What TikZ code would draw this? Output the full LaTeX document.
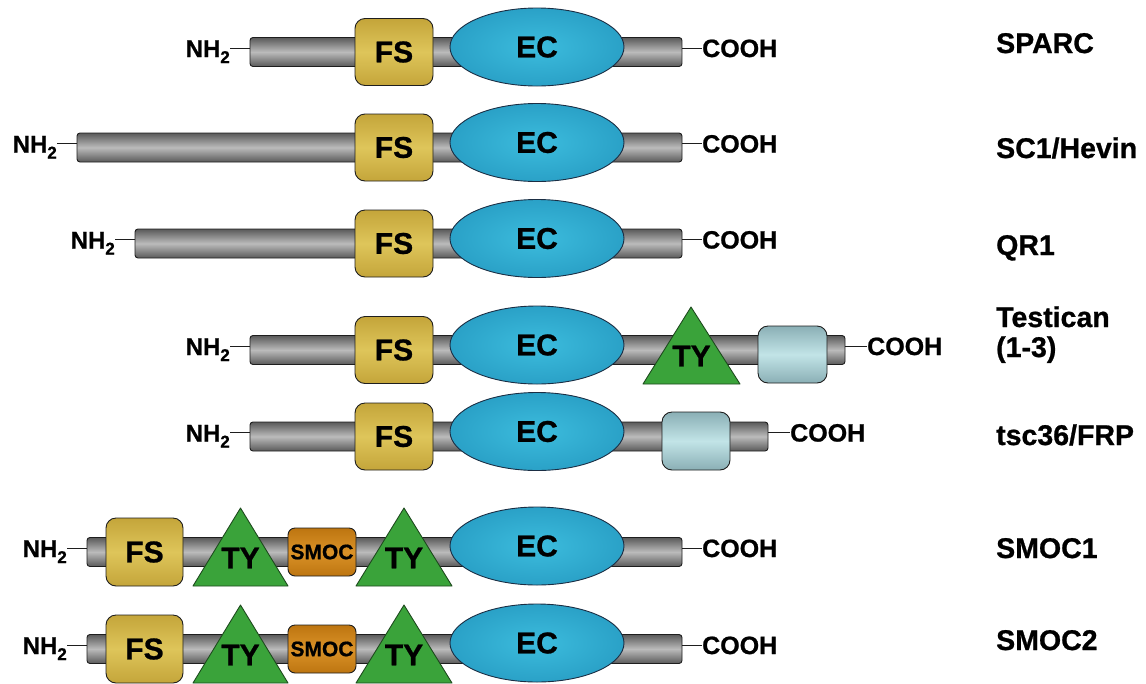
\documentclass[tikz,border=0pt]{standalone}
\usepackage{fontspec}
\setmainfont{Liberation Sans}[BoldFeatures={FakeBold=0.9}]
\usetikzlibrary{shapes.geometric}

\definecolor{barDark}{HTML}{5A5A5A}
\definecolor{barLight}{HTML}{BBBBBB}
\definecolor{fsEdge}{HTML}{C4A53A}
\definecolor{fsMid}{HTML}{DEC55A}
\definecolor{ecOuter}{HTML}{2AA1C7}
\definecolor{ecInner}{HTML}{3CBCDD}
\definecolor{ecLine}{HTML}{1B2E44}
\definecolor{tyFill}{HTML}{3AA33A}
\definecolor{tyLine}{HTML}{1E4A1E}
\definecolor{smocEdge}{HTML}{BD7510}
\definecolor{smocMid}{HTML}{DA9228}
\definecolor{lbEdge}{HTML}{8AAFB5}
\definecolor{lbMid}{HTML}{C2E4E7}
\definecolor{inkline}{HTML}{1E1E1E}

\newcommand\subtwo{\raisebox{-6pt}{\fontsize{17}{17}\selectfont 2}}

\tikzset{
  backbone/.style={draw=inkline, line width=0.9pt, rounded corners=3pt, inner sep=0pt,
    minimum height=29pt, top color=barDark, bottom color=barDark, middle color=barLight},
  fsbox/.style={draw=inkline, line width=0.9pt, rounded corners=10pt, inner sep=0pt,
    minimum width=78pt, minimum height=67pt, top color=fsEdge, bottom color=fsEdge,
    middle color=fsMid, font=\fontsize{30}{30}\selectfont\bfseries},
  ecbox/.style={ellipse, draw=ecLine, line width=0.9pt, inner sep=0pt,
    minimum width=174pt, minimum height=78pt, inner color=ecInner, outer color=ecOuter,
    font=\fontsize{30}{30}\selectfont\bfseries},
  smocbox/.style={draw=inkline, line width=0.9pt, rounded corners=7pt, inner sep=0pt,
    minimum width=68pt, minimum height=48pt, top color=smocEdge, bottom color=smocEdge,
    middle color=smocMid, font=\fontsize{21}{21}\selectfont\bfseries},
  lbbox/.style={draw=inkline, line width=0.9pt, rounded corners=10pt, inner sep=0pt,
    minimum width=69pt, minimum height=57pt, top color=lbEdge, bottom color=lbEdge,
    middle color=lbMid},
  tyshape/.style={fill=tyFill, draw=tyLine, line width=0.9pt, line join=round},
  tytext/.style={inner sep=0pt, font=\fontsize{30}{30}\selectfont\bfseries},
  nterm/.style={anchor=base east, inner sep=0pt, font=\fontsize{24}{24}\selectfont\bfseries},
  cterm/.style={anchor=base west, inner sep=0pt, font=\fontsize{25}{25}\selectfont\bfseries},
  tick/.style={draw=inkline, line width=0.8pt},
  protlabel/.style={anchor=base west, inner sep=0pt, align=left,
    font=\fontsize{28.5}{30}\selectfont\bfseries}
}

\begin{document}
\begin{tikzpicture}[x=1pt,y=-1pt]
\useasboundingbox (0,0) rectangle (1146,683);

% ---- SPARC ----
\node[backbone, minimum width=432pt] (b1) at (466,52) {};
\node[fsbox] (fs1) at (394,52) {FS};
\node[ecbox] (ec1) at (537,47) {EC};
\node[nterm] (n1) at (230,57) {NH\subtwo};
\node[cterm] (c1) at (702,57) {COOH};
\draw[tick] ([yshift=4pt]b1.west) -- ([yshift=4pt]b1.west -| n1.east);
\draw[tick] ([yshift=4pt]b1.east) -- ([yshift=4pt]b1.east -| c1.west);
\node[protlabel] (l1) at (996,53) {SPARC};

% ---- SC1/Hevin ----
\node[backbone, minimum width=605pt] (b2) at (379.5,147.5) {};
\node[fsbox] (fs2) at (394,147.5) {FS};
\node[ecbox] (ec2) at (537,142.5) {EC};
\node[nterm] (n2) at (57,152.5) {NH\subtwo};
\node[cterm] (c2) at (702,152.5) {COOH};
\draw[tick] ([yshift=4pt]b2.west) -- ([yshift=4pt]b2.west -| n2.east);
\draw[tick] ([yshift=4pt]b2.east) -- ([yshift=4pt]b2.east -| c2.west);
\node[protlabel] (l2) at (996,158) {SC1/Hevin};

% ---- QR1 ----
\node[backbone, minimum width=547pt] (b3) at (408.5,243.5) {};
\node[fsbox] (fs3) at (394,243.5) {FS};
\node[ecbox] (ec3) at (537,238.5) {EC};
\node[nterm] (n3) at (115,248.5) {NH\subtwo};
\node[cterm] (c3) at (702,248.5) {COOH};
\draw[tick] ([yshift=4pt]b3.west) -- ([yshift=4pt]b3.west -| n3.east);
\draw[tick] ([yshift=4pt]b3.east) -- ([yshift=4pt]b3.east -| c3.west);
\node[protlabel] (l3) at (996,255) {QR1};

% ---- Testican (1-3) ----
\node[backbone, minimum width=595pt] (b4) at (547.5,350) {};
\node[fsbox] (fs4) at (394,350) {FS};
\node[ecbox] (ec4) at (537,345) {EC};
\path[tyshape] (691,307) -- (740,384) -- (643,384) -- cycle;
\node[tytext] (ty4) at (691.5,356) {TY};
\node[lbbox] (lb4) at (792.5,354.5) {};
\node[nterm] (n4) at (230,355) {NH\subtwo};
\node[cterm] (c4) at (867,355) {COOH};
\draw[tick] ([yshift=4pt]b4.west) -- ([yshift=4pt]b4.west -| n4.east);
\draw[tick] ([yshift=4pt]b4.east) -- ([yshift=4pt]b4.east -| c4.west);
\node[protlabel] (l4) at (996,357) {Testican\\(1-3)};

% ---- tsc36/FRP ----
\node[backbone, minimum width=518pt] (b5) at (509,436.5) {};
\node[fsbox] (fs5) at (394,436.5) {FS};
\node[ecbox] (ec5) at (537,431.5) {EC};
\node[lbbox, minimum width=68pt, minimum height=58pt] (lb5) at (696,441) {};
\node[nterm] (n5) at (230,441.5) {NH\subtwo};
\node[cterm] (c5) at (790,441.5) {COOH};
\draw[tick] ([yshift=4pt]b5.west) -- ([yshift=4pt]b5.west -| n5.east);
\draw[tick] ([yshift=4pt]b5.east) -- ([yshift=4pt]b5.east -| c5.west);
\node[protlabel] (l5) at (996,445) {tsc36/FRP};

% ---- SMOC1 ----
\node[backbone, minimum width=595pt] (b6) at (384.5,552) {};
\node[fsbox, minimum width=77pt, minimum height=68pt] (fs6) at (144.5,552) {FS};
\path[tyshape] (240.5,508) -- (288,586) -- (193,586) -- cycle;
\node[tytext] (ty6a) at (240.5,558) {TY};
\node[smocbox] (sm6) at (322,552) {SMOC};
\path[tyshape] (404,508) -- (452,586) -- (356,586) -- cycle;
\node[tytext] (ty6b) at (404,558) {TY};
\node[ecbox] (ec6) at (537,546) {EC};
\node[nterm] (n6) at (67,557) {NH\subtwo};
\node[cterm] (c6) at (702,557) {COOH};
\draw[tick] ([yshift=4pt]b6.west) -- ([yshift=4pt]b6.west -| n6.east);
\draw[tick] ([yshift=4pt]b6.east) -- ([yshift=4pt]b6.east -| c6.west);
\node[protlabel] (l6) at (996,558) {SMOC1};

% ---- SMOC2 ----
\node[backbone, minimum width=595pt] (b7) at (384.5,649) {};
\node[fsbox, minimum width=77pt, minimum height=68pt] (fs7) at (144.5,649) {FS};
\path[tyshape] (240.5,605) -- (288,683) -- (193,683) -- cycle;
\node[tytext] (ty7a) at (240.5,655) {TY};
\node[smocbox] (sm7) at (322,649) {SMOC};
\path[tyshape] (404,605) -- (452,683) -- (356,683) -- cycle;
\node[tytext] (ty7b) at (404,655) {TY};
\node[ecbox] (ec7) at (537,643) {EC};
\node[nterm] (n7) at (67,654) {NH\subtwo};
\node[cterm] (c7) at (702,654) {COOH};
\draw[tick] ([yshift=4pt]b7.west) -- ([yshift=4pt]b7.west -| n7.east);
\draw[tick] ([yshift=4pt]b7.east) -- ([yshift=4pt]b7.east -| c7.west);
\node[protlabel] (l7) at (996,650) {SMOC2};
\end{tikzpicture}
\end{document}
